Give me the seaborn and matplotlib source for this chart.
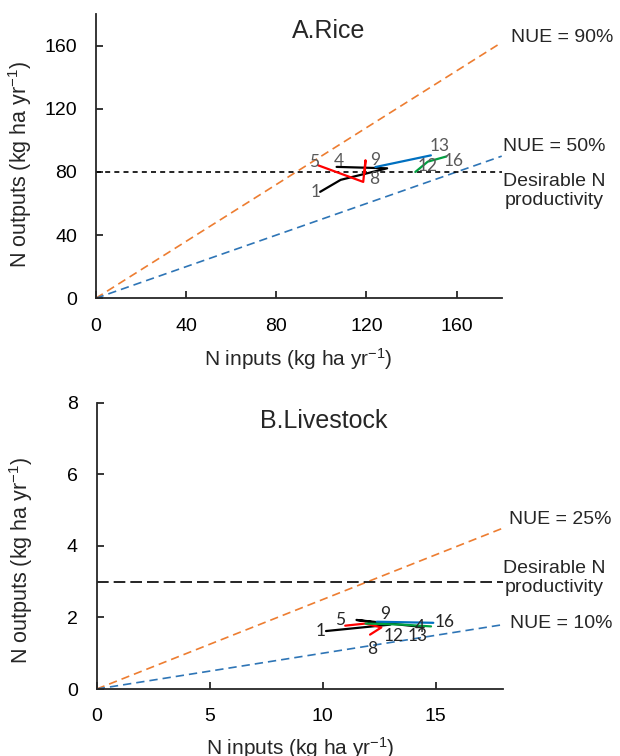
import matplotlib
matplotlib.use("Agg")
import matplotlib.pyplot as plt
import seaborn as sns
import numpy as np
import pandas as pd

# ---------------- data ----------------
# Rice (kg N ha-1 yr-1): inputs (x) and outputs (y) per period
rice_black_x = [99.5, 108.6, 129.2, 106.8]
rice_black_y = [67.4, 75.0, 82.3, 83.2]
rice_black_lbl = ["1", "", "", "4"]
rice_red_x = [98.6, 118.6, 119.6, 119.3]
rice_red_y = [84.2, 73.7, 87.4, 79.5]
rice_red_lbl = ["5", "", "", "8"]
rice_blue_x = [124.0, 148.6]
rice_blue_y = [83.1, 90.5]
rice_blue_lbl = ["9", "13"]
rice_green_x = [141.7, 147.2, 155.5]
rice_green_y = [80.0, 86.5, 89.8]
rice_green_lbl = ["12", "", "16"]
rice_nue = [0.9, 0.5]
rice_desirable = 80
rice_xticks = [0, 40, 80, 120, 160]
rice_yticks = [0, 40, 80, 120, 160]

# Livestock
live_black_x = [10.15, 13.0, 11.5, 14.3]
live_black_y = [1.62, 1.80, 1.93, 1.74]
live_black_lbl = ["1", "", "", "4"]
live_red_x = [11.0, 11.9, 12.6, 12.1]
live_red_y = [1.77, 1.83, 1.72, 1.52]
live_red_lbl = ["5", "", "", "8"]
live_blue_x = [12.4, 14.9]
live_blue_y = [1.88, 1.85]
live_blue_lbl = ["9", "16"]
live_green_x = [11.9, 13.5, 14.8]
live_green_y = [1.83, 1.80, 1.75]
live_green_lbl = ["", "12", "13"]
live_nue = [0.25, 0.10]
live_desirable = 3
live_xticks = [0, 5, 10, 15]
live_yticks = [0, 2, 4, 6, 8]

# ---------------- style ----------------
sns.set_style("ticks")
plt.rcParams["font.family"] = ["Liberation Sans", "DejaVu Sans"]
plt.rcParams["mathtext.default"] = "regular"
plt.rcParams["axes.linewidth"] = 1.3

C_ORANGE = "#ED7D31"
C_BLUE_D = "#2E75B6"
C_BLACK = "#000000"
C_RED = "#FF0000"
C_BLUE = "#0070C0"
C_GREEN = "#00A040"

fig = plt.figure(figsize=(6.2, 7.56), dpi=100)
ax1 = fig.add_axes([0.1544, 0.6054, 0.6548, 0.3761])
ax2 = fig.add_axes([0.1560, 0.0886, 0.6558, 0.3787])

# label offsets (pixels)
rice_off = {"1": (-5, 0), "4": (2, 6), "5": (-4, 3), "8": (9, -6), "9": (0, 7),
            "13": (9, 9), "12": (12, 6), "16": (7, -5)}
live_off = {"1": (-5, 0), "5": (-5, 6), "8": (2, -14), "9": (8, 8),
            "12": (-8, -11), "13": (-13, -10), "4": (0, 0), "16": (11, 1)}


def draw_panel(ax, series, nue, desirable, xmax, ymax, xticks, yticks,
               offs, lblcolor, desir_dash):
    xs = np.array([0, xmax])
    sns.lineplot(x=xs, y=nue[0] * xs, ax=ax, color=C_ORANGE, lw=1.2,
                 linestyle=(0, (5, 3)), sort=False, estimator=None)
    sns.lineplot(x=xs, y=nue[1] * xs, ax=ax, color=C_BLUE_D, lw=1.2,
                 linestyle=(0, (5, 3)), sort=False, estimator=None)
    sns.lineplot(x=xs, y=[desirable, desirable], ax=ax, color="black", lw=1.2,
                 linestyle=desir_dash, sort=False, estimator=None)
    for x, y, lbl, col in series:
        df = pd.DataFrame({"x": x, "y": y})
        sns.lineplot(data=df, x="x", y="y", ax=ax, color=col, lw=1.6,
                     sort=False, estimator=None)
        for xi, yi, li in zip(x, y, lbl):
            if li:
                ax.annotate(li, (xi, yi), xytext=offs[li],
                            textcoords="offset pixels", ha="center",
                            va="center", fontsize=12.5, color=lblcolor,
                            family=["Lato", "DejaVu Sans"])
    ax.set_xlim(0, xmax)
    ax.set_ylim(0, ymax)
    ax.set_xticks(xticks)
    ax.set_yticks(yticks)
    sns.despine(ax=ax)
    ax.tick_params(direction="in", length=5, width=1.1, labelsize=14,
                   colors="black")
    ax.tick_params(axis="x", pad=14)
    ax.tick_params(axis="y", pad=13.5)
    ax.set_xlabel("N inputs (kg ha yr$^{-1}$)", fontsize=15)
    ax.set_ylabel("N outputs (kg ha yr$^{-1}$)", fontsize=15.5)


draw_panel(ax1,
           [(rice_black_x, rice_black_y, rice_black_lbl, C_BLACK),
            (rice_red_x, rice_red_y, rice_red_lbl, C_RED),
            (rice_blue_x, rice_blue_y, rice_blue_lbl, C_BLUE),
            (rice_green_x, rice_green_y, rice_green_lbl, C_GREEN)],
           rice_nue, rice_desirable, 180, 180, rice_xticks, rice_yticks,
           rice_off, "#595959", (0, (3, 2.5)))
draw_panel(ax2,
           [(live_black_x, live_black_y, live_black_lbl, C_BLACK),
            (live_red_x, live_red_y, live_red_lbl, C_RED),
            (live_blue_x, live_blue_y, live_blue_lbl, C_BLUE),
            (live_green_x, live_green_y, live_green_lbl, C_GREEN)],
           live_nue, live_desirable, 18, 8, live_xticks, live_yticks,
           live_off, "#262626", (0, (7, 3)))

ax1.xaxis.set_label_coords(0.5, -0.168)
ax2.xaxis.set_label_coords(0.5, -0.16)
ax1.yaxis.set_label_coords(-0.152, 0.472)
ax2.yaxis.set_label_coords(-0.152, 0.45)

# titles
ax1.text(103.4, 169.2, "A.Rice", fontsize=18, ha="center", va="center")
ax2.text(10.07, 7.49, "B.Livestock", fontsize=18, ha="center", va="center")

# right-side annotations
kw = dict(fontsize=14, clip_on=False)
ax1.text(184.1, 165.3, "NUE = 90%", ha="left", va="center", **kw)
ax1.text(180.7, 95.8, "NUE = 50%", ha="left", va="center", **kw)
ax1.text(203.2, 68.1, "Desirable N\nproductivity", ha="center", va="center",
         multialignment="center", linespacing=1.15, **kw)
ax2.text(18.23, 4.74, "NUE = 25%", ha="left", va="center", **kw)
ax2.text(18.28, 1.82, "NUE = 10%", ha="left", va="center", **kw)
ax2.text(20.24, 3.11, "Desirable N\nproductivity", ha="center", va="center",
         multialignment="center", linespacing=1.15, **kw)

fig.savefig("out.png", dpi=100)
